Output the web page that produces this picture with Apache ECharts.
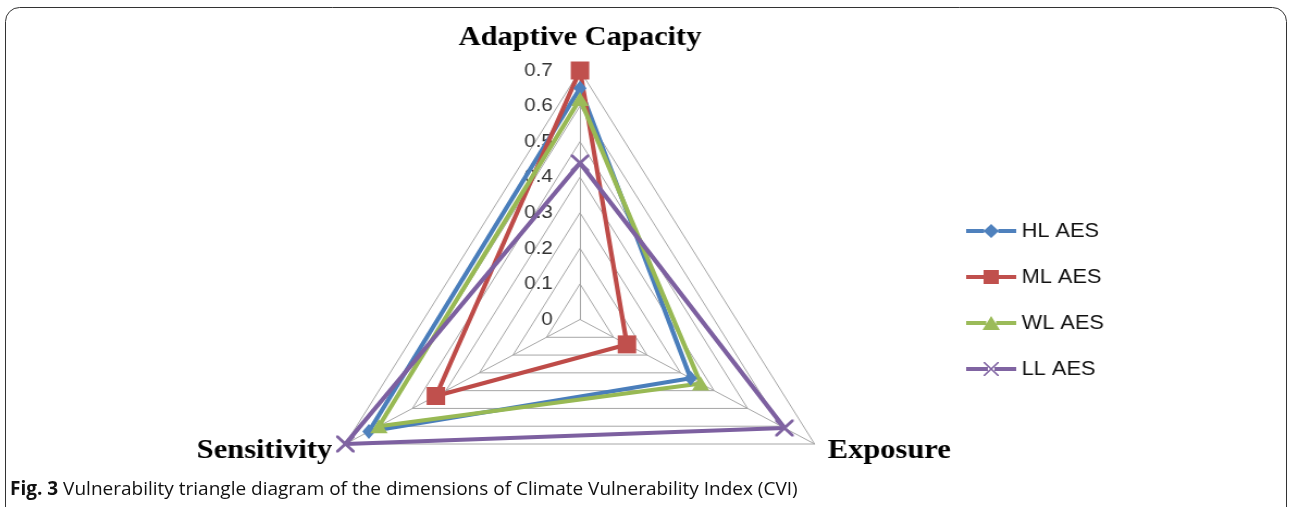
<!DOCTYPE html>
<html>
<head>
<meta charset="utf-8">
<script src="https://cdn.jsdelivr.net/npm/echarts@6/dist/echarts.min.js"></script>
<style>
  html, body { margin: 0; padding: 0; background: #ffffff; }
  #wrap { position: relative; width: 1290px; height: 507px; overflow: hidden; background: #ffffff; }
  #frame { position: absolute; left: 0; top: 0; width: 1290px; height: 507px; }
  #radar { position: absolute; left: 0; top: 0; height: 507px; transform-origin: 0 0; }
</style>
</head>
<body>
<div id="wrap">
  <div id="frame"></div>
  <div id="radar"></div>
</div>
<script>
// ---- data ----
const indicatorNames = ['Adaptive Capacity', 'Sensitivity', 'Exposure'];
const axisMax = 0.7;
const axisSplits = 7;
const seriesNames = ['HL AES', 'ML AES', 'WL AES', 'LL AES'];
// values in indicator order: Adaptive Capacity, Sensitivity, Exposure
const hlAES = [0.65, 0.63, 0.33];
const mlAES = [0.70, 0.43, 0.14];
const wlAES = [0.62, 0.60, 0.36];
const llAES = [0.44, 0.70, 0.61];
const captionBold = 'Fig. 3';
const captionText = ' Vulnerability triangle diagram of the dimensions of Climate Vulnerability Index (CVI)';

// ---- layout / style ----
const stretchX = 1.088;
const W = 1290, H = 507;
const localW = W / stretchX;
const radarDiv = document.getElementById('radar');
radarDiv.style.width = localW + 'px';
radarDiv.style.transform = 'scaleX(' + stretchX + ')';

const lineColors = ['#4A7EBB', '#BE4B48', '#98B954', '#7D60A0'];
const markColors = ['#4F81BD', '#C0504D', '#9BBB59', '#8064A2'];
const symbols = ['diamond', 'rect', 'triangle',
  'path://M0,0 L1.2,0 L10,8.8 L10,10 L8.8,10 L0,1.2 Z M10,0 L10,1.2 L1.2,10 L0,10 L0,8.8 L8.8,0 Z'];
const symbolSizes = [[12, 15], [17, 18], [16, 14], [17, 17]];
// legend icons: 46 x 14 box, line segments beside the marker (no overlapping sub-paths)
const legendIcons = [
  'path://M0,5 L16.5,5 L16.5,9 L0,9 Z M29.5,5 L46,5 L46,9 L29.5,9 Z M23,0 L30,7 L23,14 L16,7 Z',
  'path://M0,5 L16,5 L16,9 L0,9 Z M30,5 L46,5 L46,9 L30,9 Z M16,0 L30,0 L30,14 L16,14 Z',
  'path://M0,5 L18.5,5 L18.5,9 L0,9 Z M27.5,5 L46,5 L46,9 L27.5,9 Z M23,0 L31,14 L15,14 Z',
  'path://M0,5 L20,5 L20,9 L0,9 Z M26,5 L46,5 L46,9 L26,9 Z ' +
    'M16,0 L17.2,0 L30,12.9 L30,14 L28.8,14 L16,1.1 Z M28.8,0 L30,0 L30,1.1 L17.2,14 L16,14 L16,12.9 Z'
];
const allData = [hlAES, mlAES, wlAES, llAES];

const radarChart = echarts.init(radarDiv, null, { renderer: 'canvas' });
radarChart.setOption({
  animation: false,
  backgroundColor: 'transparent',
  legend: {
    orient: 'vertical',
    left: 883,
    top: 216,
    itemWidth: 46,
    itemHeight: 14,
    itemGap: 26,
    itemStyle: { borderWidth: 0 },
    textStyle: { fontFamily: 'Liberation Sans', fontSize: 20, color: '#111111' },
    data: seriesNames.map((n, i) => ({ name: n, icon: legendIcons[i] }))
  },
  radar: {
    center: [580 / stretchX, 319.5],
    radius: 249,
    startAngle: 90,
    shape: 'polygon',
    splitNumber: axisSplits,
    axisName: {
      fontFamily: 'Liberation Serif',
      fontWeight: 'bold',
      fontSize: 28,
      color: '#000000',
      formatter: function (name) {
        return name === indicatorNames[0] ? '{t|' + name + '}' : name;
      },
      rich: {
        t: {
          fontFamily: 'Liberation Serif',
          fontWeight: 'bold',
          fontSize: 28,
          color: '#000000',
          padding: [0, 0, 5, 0]
        }
      }
    },
    nameGap: 14,
    splitLine: { lineStyle: { color: '#a6a6a6', width: 1 } },
    splitArea: { show: false },
    axisLine: { lineStyle: { color: '#a6a6a6', width: 1 } },
    axisTick: { show: false },
    axisLabel: { show: false },
    indicator: indicatorNames.map((n, i) => {
      const o = { name: n, min: 0, max: axisMax };
      if (i === 0) {
        o.axisLabel = {
          show: true,
          margin: 25,
          fontFamily: 'Liberation Sans',
          fontSize: 19,
          color: '#333333',
          formatter: function (v) { return String(Number(v.toFixed(1))); }
        };
      }
      return o;
    })
  },
  series: seriesNames.map((n, i) => ({
    type: 'radar',
    name: n,
    symbol: symbols[i],
    symbolSize: symbolSizes[i],
    lineStyle: { color: lineColors[i], width: 4.2 },
    itemStyle: { color: markColors[i], borderWidth: 0 },
    data: [{ name: n, value: allData[i] }]
  }))
});

const frameChart = echarts.init(document.getElementById('frame'), null, { renderer: 'canvas' });
frameChart.setOption({
  animation: false,
  graphic: [
    {
      type: 'rect',
      shape: { x: 5.5, y: 7.5, width: 1281, height: 520, r: 14 },
      style: { fill: 'none', stroke: '#333333', lineWidth: 1 }
    },
    {
      type: 'text',
      left: 10,
      top: 480,
      style: {
        text: '{b|' + captionBold + '}{n|' + captionText + '}',
        rich: {
          b: { fontFamily: 'Open Sans', fontWeight: 'bold', fontSize: 19, fill: '#111111' },
          n: { fontFamily: 'Open Sans', fontSize: 19, fill: '#111111' }
        }
      }
    }
  ]
});
</script>
</body>
</html>
